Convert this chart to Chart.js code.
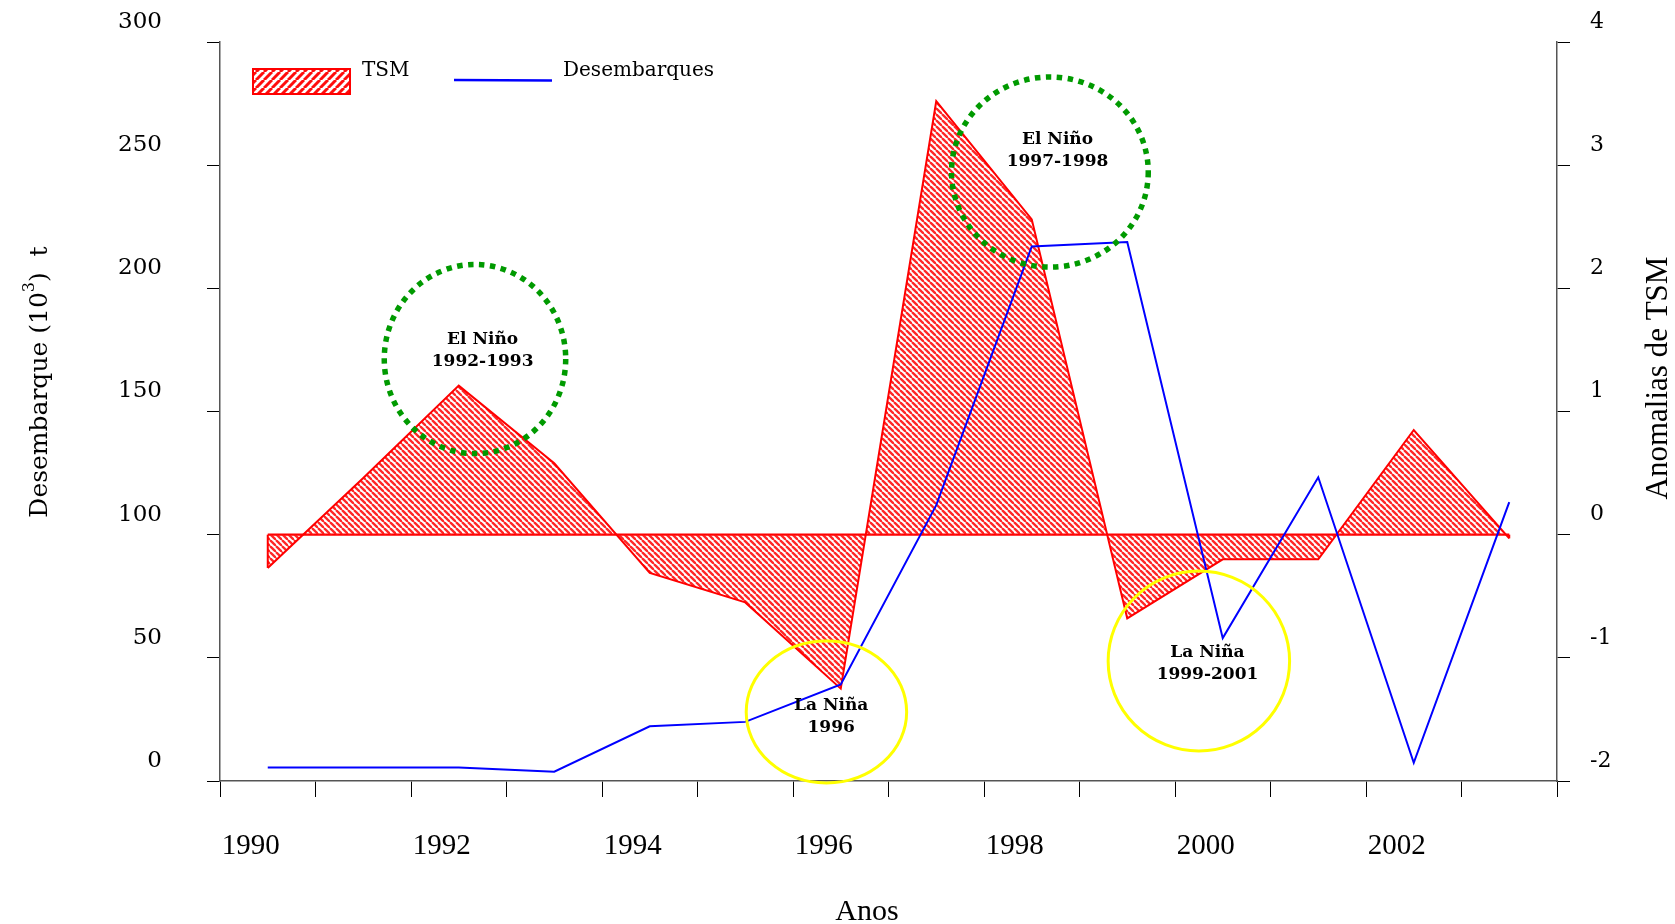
<!DOCTYPE html>
<html>
<head>
<meta charset="utf-8">
<script src="https://cdn.jsdelivr.net/npm/chart.js@4.4.0/dist/chart.umd.min.js"></script>
<style>
html,body{margin:0;padding:0;background:#fff;overflow:hidden}
canvas{display:block}
</style>
</head>
<body>
<canvas id="c" width="1675" height="924"></canvas>
<script>
// ---------- DATA ----------
const years = ['1990','1991','1992','1993','1994','1995','1996','1997','1998','1999','2000','2001','2002','2003'];
const xTickLabels = ['1990','','1992','','1994','','1996','','1998','','2000','','2002',''];
const desembarques = [5.5, 5.5, 5.5, 3.8, 22.2, 24.0, 39.2, 112.0, 217.0, 218.8, 58.0, 123.3, 7.4, 113.2];
const tsm = [-0.27, 0.46, 1.21, 0.58, -0.31, -0.55, -1.25, 3.52, 2.56, -0.68, -0.20, -0.20, 0.85, -0.03];
const tsmBase = [0, 0, 0, 0, 0, 0, 0, 0, 0, 0, 0, 0, 0, 0];
const seriesNames = ['TSM', 'Desembarques'];
const eventLabels = [['El Niño', '1992-1993'], ['El Niño', '1997-1998'], ['La Niña', '1996'], ['La Niña', '1999-2001']];
const axisTitles = { x: 'Anos', yLeft: ['Desembarque (10', '3', ')  t'], yRight: 'Anomalias de TSM' };

// ---------- STYLES ----------
const RED = '#ff0000', BLUE = '#0000ff', GREEN = '#009a00', YELLOW = '#ffff00';

function makeHatch(size, lw, dir, color) {
  const c = document.createElement('canvas');
  c.width = size; c.height = size;
  const g = c.getContext('2d');
  g.strokeStyle = color; g.lineWidth = lw;
  for (let k = -1; k <= 1; k++) {
    g.beginPath();
    if (dir === 'back') { g.moveTo(k * size, 0); g.lineTo(k * size + size, size); }
    else { g.moveTo(k * size, size); g.lineTo(k * size + size, 0); }
    g.stroke();
  }
  return c;
}
const ctx0 = document.getElementById('c').getContext('2d');
const fillPattern = ctx0.createPattern(makeHatch(6, 2.3, 'back', 'rgba(255,20,20,0.92)'), 'repeat');
const legendPattern = ctx0.createPattern(makeHatch(8, 3, 'fwd', 'rgba(255,0,0,0.95)'), 'repeat');

// annotation geometry (data units: x = category index, y = left axis value)
const annotGeom = [
  { cx: 2.17, cy: 171.3, rx: 0.95, ry: 38.4, ty: 174.6, tx: 2.25, kind: 'nino' },
  { cx: 8.19, cy: 247.2, rx: 1.03, ry: 38.6, ty: 255.8, tx: 8.27, kind: 'nino' },
  { cx: 5.85, cy: 28.0,  rx: 0.84, ry: 28.8, ty: 26.0,  tx: 5.90, kind: 'nina' },
  { cx: 9.75, cy: 48.7,  rx: 0.95, ry: 36.5, ty: 47.5,  tx: 9.84, kind: 'nina' }
];

const annotPlugin = {
  id: 'annot',
  afterDatasetsDraw(chart) {
    const { ctx, scales: { x, y, y2 } } = chart;
    ctx.save();
    // closing edges of the TSM polygon at both ends
    ctx.strokeStyle = RED; ctx.lineWidth = 2;
    [0, tsm.length - 1].forEach(i => {
      const px = x.getPixelForValue(i);
      ctx.beginPath();
      ctx.moveTo(px, y2.getPixelForValue(0));
      ctx.lineTo(px, y2.getPixelForValue(tsm[i]));
      ctx.stroke();
    });
    annotGeom.forEach((a, i) => {
      const cx = x.getPixelForValue(a.cx), cy = y.getPixelForValue(a.cy);
      const rx = Math.abs(x.getPixelForValue(a.cx + a.rx) - cx);
      const ry = Math.abs(y.getPixelForValue(a.cy + a.ry) - cy);
      ctx.beginPath();
      ctx.ellipse(cx, cy, rx, ry, 0, 0, Math.PI * 2);
      if (a.kind === 'nino') {
        ctx.strokeStyle = GREEN; ctx.lineWidth = 5.5; ctx.setLineDash([5.5, 5.5]);
      } else {
        ctx.strokeStyle = YELLOW; ctx.lineWidth = 3; ctx.setLineDash([]);
      }
      ctx.stroke();
      ctx.setLineDash([]);
      const tx = x.getPixelForValue(a.tx), ty = y.getPixelForValue(a.ty);
      ctx.fillStyle = '#000';
      ctx.font = 'bold 17px "DejaVu Serif"';
      ctx.textAlign = 'center'; ctx.textBaseline = 'middle';
      ctx.fillText(eventLabels[i][0], tx, ty - 11);
      ctx.fillText(eventLabels[i][1], tx, ty + 11);
    });
    ctx.restore();
  },
  afterDraw(chart) {
    const { ctx } = chart;
    ctx.save();
    // legend
    ctx.fillStyle = legendPattern;
    ctx.fillRect(253, 69, 97, 25);
    ctx.strokeStyle = RED; ctx.lineWidth = 2;
    ctx.strokeRect(253, 69, 97, 25);
    ctx.fillStyle = '#000';
    ctx.font = '20px "DejaVu Serif"';
    ctx.textAlign = 'left'; ctx.textBaseline = 'alphabetic';
    ctx.fillText(seriesNames[0], 362, 76);
    ctx.strokeStyle = BLUE; ctx.lineWidth = 2.5;
    ctx.beginPath(); ctx.moveTo(454, 80); ctx.lineTo(552, 80.5); ctx.stroke();
    ctx.fillText(seriesNames[1], 563, 76);

    // x title
    ctx.font = '30px "Liberation Serif"';
    ctx.textAlign = 'center';
    ctx.fillText(axisTitles.x, 867, 920);

    // right title (rotated, reading bottom to top)
    ctx.save();
    ctx.font = '31px "Liberation Serif"';
    ctx.translate(1667, 378);
    ctx.rotate(-Math.PI / 2);
    ctx.textAlign = 'center';
    ctx.fillText(axisTitles.yRight, 0, 0);
    ctx.restore();

    // left title with superscript
    ctx.save();
    ctx.translate(47, 382);
    ctx.rotate(-Math.PI / 2);
    ctx.textAlign = 'left';
    const fMain = '25px "DejaVu Serif"', fSup = '16px "DejaVu Serif"';
    ctx.font = fMain; const w1 = ctx.measureText(axisTitles.yLeft[0]).width;
    const w3 = ctx.measureText(axisTitles.yLeft[2]).width;
    ctx.font = fSup; const w2 = ctx.measureText(axisTitles.yLeft[1]).width;
    let sx = -(w1 + w2 + w3) / 2;
    ctx.font = fMain; ctx.fillText(axisTitles.yLeft[0], sx, 0); sx += w1;
    ctx.font = fSup; ctx.fillText(axisTitles.yLeft[1], sx, -13); sx += w2;
    ctx.font = fMain; ctx.fillText(axisTitles.yLeft[2], sx, 0);
    ctx.restore();

    ctx.restore();
  }
};

new Chart(document.getElementById('c'), {
  type: 'line',
  data: {
    labels: years,
    datasets: [
      {
        label: seriesNames[1], data: desembarques, yAxisID: 'y',
        borderColor: BLUE, borderWidth: 2, pointRadius: 0, tension: 0, fill: false
      },
      {
        label: seriesNames[0], data: tsm, yAxisID: 'y2',
        borderColor: RED, borderWidth: 2, pointRadius: 0, tension: 0,
        backgroundColor: fillPattern, fill: { value: 0 }
      },
      {
        label: 'base', data: tsmBase, yAxisID: 'y2',
        borderColor: RED, borderWidth: 2.2, pointRadius: 0, fill: false
      }
    ]
  },
  options: {
    responsive: false,
    animation: false,
    devicePixelRatio: 1,
    layout: { padding: { top: 42, left: 0, right: 0, bottom: 0 } },
    plugins: { legend: { display: false }, tooltip: { enabled: false } },
    scales: {
      x: {
        type: 'category',
        offset: true,
        grid: { offset: true, drawOnChartArea: false, drawTicks: true, tickLength: 16, color: '#000', lineWidth: 1 },
        border: { display: true, color: '#555', width: 1.5 },
        ticks: {
          autoSkip: false, maxRotation: 0, minRotation: 0,
          callback: (v, i) => xTickLabels[i],
          labelOffset: -17, padding: 32, color: '#000',
          font: { family: 'Liberation Serif', size: 29 }
        },
        afterFit: s => { s.height = 143; s.paddingLeft = 0; s.paddingRight = 0; }
      },
      y: {
        position: 'left', min: 0, max: 300,
        grid: { drawOnChartArea: false, drawTicks: true, tickLength: 13, color: '#000', lineWidth: 1 },
        border: { display: true, color: '#555', width: 1.5 },
        ticks: { stepSize: 50, labelOffset: -20, padding: 45, color: '#000', font: { family: 'DejaVu Serif', size: 23 } },
        afterFit: s => { s.width = 220; s.paddingTop = 0; s.paddingBottom = 0; }
      },
      y2: {
        position: 'right', min: -2, max: 4,
        grid: { drawOnChartArea: false, drawTicks: true, tickLength: 13, color: '#000', lineWidth: 1 },
        border: { display: true, color: '#555', width: 1.5 },
        ticks: { stepSize: 1, labelOffset: -20, padding: 20, color: '#000', font: { family: 'DejaVu Serif', size: 22 } },
        afterFit: s => { s.width = 118; s.paddingTop = 0; s.paddingBottom = 0; }
      }
    }
  },
  plugins: [annotPlugin]
});
</script>
</body>
</html>
